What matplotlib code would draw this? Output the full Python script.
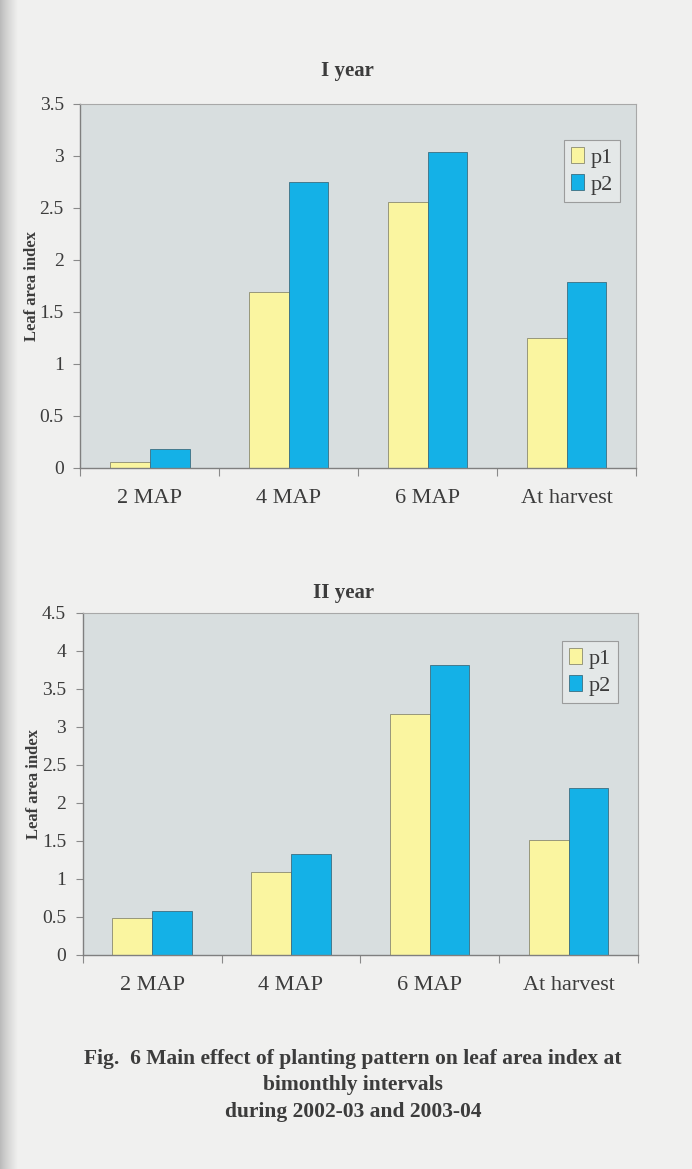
import matplotlib
matplotlib.use("Agg")
import matplotlib.pyplot as plt
import numpy as np
from matplotlib.colors import LinearSegmentedColormap

#################################################################
# DATOS
#################################################################
categorias = ["2 MAP", "4 MAP", "6 MAP", "At harvest"]

p1_anio1 = [0.06, 1.69, 2.56, 1.25]
p2_anio1 = [0.18, 2.75, 3.04, 1.79]

p1_anio2 = [0.49, 1.09, 3.17, 1.51]
p2_anio2 = [0.58, 1.33, 3.81, 2.19]

series = ["p1", "p2"]

#################################################################
# ESTILO
#################################################################
FONDO_PAGINA = "#f0f0ef"
FONDO_GRAFICO = "#d8dedf"
FONDO_LEYENDA = "#e8ebeb"
COLOR_P1 = "#faf5a0"
COLOR_P2 = "#14b1e7"
TEXTO = "#3c3c3c"

plt.rcParams["font.family"] = ["Liberation Serif", "DejaVu Serif"]


def grafico_barras(ax, valores_p1, valores_p2, ymax, titulo,
                   titulo_x, titulo_pad, ley_xy):
    x = np.arange(len(categorias))
    ancho = 1 / 3.5
    ax.set_facecolor(FONDO_GRAFICO)
    ax.bar(x - ancho / 2, valores_p1, ancho, color=COLOR_P1,
           edgecolor="#8a8a70", linewidth=0.6, label=series[0], zorder=2)
    ax.bar(x + ancho / 2, valores_p2, ancho, color=COLOR_P2,
           edgecolor="#3c6e80", linewidth=0.6, label=series[1], zorder=2)

    ax.set_xlim(-0.5, len(categorias) - 0.5)
    ax.set_ylim(0, ymax)
    marcas = np.arange(0, ymax + 0.01, 0.5)
    ax.set_yticks(marcas)
    ax.set_yticklabels([f"{v:g}" for v in marcas])

    # marcas del eje x entre categorias, etiquetas centradas
    ax.set_xticks(np.arange(-0.5, len(categorias), 1))
    ax.set_xticklabels([])
    ax.set_xticks(x, minor=True)
    ax.set_xticklabels(categorias, minor=True)
    ax.tick_params(axis="x", which="minor", length=0, pad=15,
                   labelsize=16, labelcolor=TEXTO)
    ax.tick_params(axis="x", which="major", length=6, color="#8a8a8a")
    ax.tick_params(axis="y", length=5, color="#8a8a8a", labelsize=14,
                   labelcolor=TEXTO, pad=7)

    for lado in ["top", "right"]:
        ax.spines[lado].set_color("#a8a8a8")
        ax.spines[lado].set_linewidth(0.8)
    for lado in ["left", "bottom"]:
        ax.spines[lado].set_color("#7f7f7f")
        ax.spines[lado].set_linewidth(1.0)

    ax.set_ylabel("Leaf area index", fontsize=12, fontweight="bold",
                  color=TEXTO, labelpad=0)
    ax.set_title(titulo, fontsize=15, fontweight="bold", color=TEXTO,
                 x=titulo_x, pad=titulo_pad)

    ley = ax.legend(loc="upper right", bbox_to_anchor=ley_xy,
                    fontsize=16, frameon=True, fancybox=False,
                    handlelength=0.6, handleheight=0.75, handletextpad=0.3,
                    borderpad=0.3, labelspacing=0.3, borderaxespad=0)
    ley.get_frame().set_facecolor(FONDO_LEYENDA)
    ley.get_frame().set_edgecolor("#8a8a8a")
    ley.get_frame().set_linewidth(0.8)
    for t in ley.get_texts():
        t.set_color(TEXTO)


fig = plt.figure(figsize=(6.92, 11.69), dpi=100, facecolor=FONDO_PAGINA)

# sombra gris del borde izquierdo de la hoja
sombra = fig.add_axes([0, 0, 0.026, 1], zorder=-1)
mapa_sombra = LinearSegmentedColormap.from_list("sombra", ["#b9b9b9", FONDO_PAGINA])
degradado = np.linspace(0, 1, 64)[None, :] ** 0.8
sombra.imshow(degradado, aspect="auto", cmap=mapa_sombra, vmin=0, vmax=1,
              extent=[0, 1, 0, 1])
sombra.set_axis_off()

ax1 = fig.add_axes([0.1163, 0.5997, 0.8027, 0.3114])
grafico_barras(ax1, p1_anio1, p2_anio1, 3.5, "I year",
               0.48, 20, (0.971, 0.901))

ax2 = fig.add_axes([0.1195, 0.1831, 0.8025, 0.2926])
grafico_barras(ax2, p1_anio2, p2_anio2, 4.5, "II year",
               0.469, 11, (0.964, 0.918))

pie = ("Fig.  6 Main effect of planting pattern on leaf area index at\n"
       "bimonthly intervals\n"
       "during 2002-03 and 2003-04")
fig.text(0.51, 1 - 1049 / 1169, pie, ha="center", va="top", fontsize=15.5,
         fontweight="bold", color=TEXTO, linespacing=1.42)

fig.savefig("out.png", dpi=100, facecolor=FONDO_PAGINA)
